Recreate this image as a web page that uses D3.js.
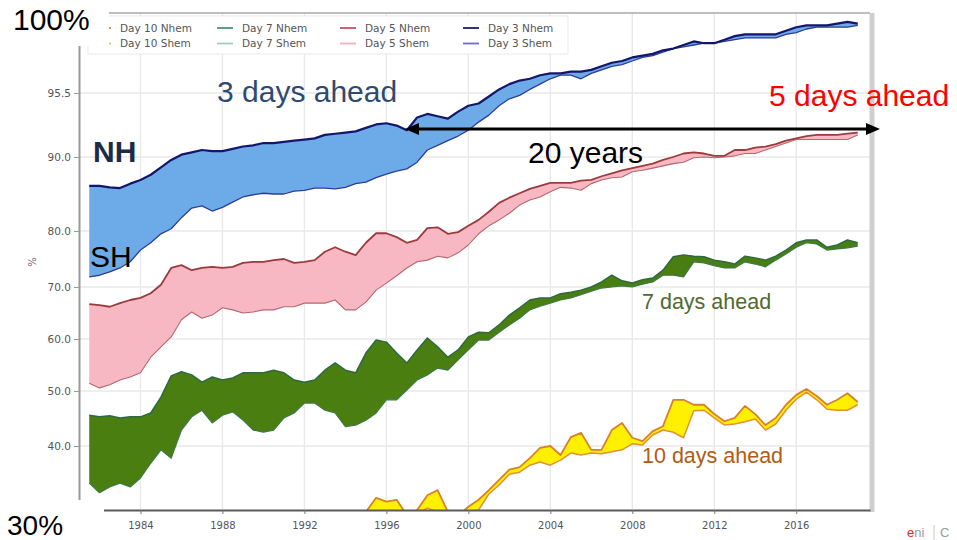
<!DOCTYPE html>
<html>
<head>
<meta charset="utf-8">
<script src="https://cdn.jsdelivr.net/npm/d3@7"></script>
<style>
  html, body { margin: 0; padding: 0; background: #fff; }
  svg { display: block; }
</style>
</head>
<body>
<svg id="chart" width="957" height="540"></svg>
<script>
// Half-yearly samples of the 12-month running anomaly correlation (%)
const years = [1981.5,1982,1982.5,1983,1983.5,1984,1984.5,1985,1985.5,1986,1986.5,1987,1987.5,1988,1988.5,1989,
  1989.5,1990,1990.5,1991,1991.5,1992,1992.5,1993,1993.5,1994,1994.5,1995,1995.5,1996,1996.5,1997,
  1997.5,1998,1998.5,1999,1999.5,2000,2000.5,2001,2001.5,2002,2002.5,2003,2003.5,2004,2004.5,2005,
  2005.5,2006,2006.5,2007,2007.5,2008,2008.5,2009,2009.5,2010,2010.5,2011,2011.5,2012,2012.5,2013,
  2013.5,2014,2014.5,2015,2015.5,2016,2016.5,2017,2017.5,2018,2018.5,2019];

const day3Nhem = [86.1,86.1,85.9,85.8,86.4,86.9,87.6,88.6, 89.6,90.2,90.4,90.6,90.5,90.5,90.7,90.9,
  91.0,91.2,91.2,91.3,91.4,91.5,91.6,91.9, 92.0,92.1,92.2,92.5,92.8,92.9,92.7,92.3,
  93.4,93.7,93.5,93.3,93.9,94.4,94.6,95.2, 95.7,96.0,96.2,96.3,96.5,96.6,96.6,96.7,
  96.7,96.8,97.0,97.2,97.3,97.5,97.6,97.7, 97.9,98.0,98.2,98.4,98.3,98.3,98.5,98.7,
  98.8,98.8,98.8,98.8,99.0,99.2,99.3,99.3, 99.3,99.4,99.5,99.4];
const day3Shem = [71.8,72.1,72.7,73.4,74.5,76.6,77.9,79.5, 80.3,81.8,83.1,83.4,82.7,83.2,83.9,84.6,
  84.9,85.1,85.0,85.0,85.4,85.5,85.8,85.8, 85.7,85.9,86.4,86.6,87.2,87.7,88.1,88.4,
  89.3,90.6,91.0,91.4,91.8,92.3,93.0,93.6, 94.4,95.0,95.3,95.7,96.0,96.3,96.5,96.5,
  96.3,96.6,96.8,97.0,97.1,97.3,97.5,97.6, 97.8,98.0,98.1,98.2,98.3,98.3,98.4,98.5,
  98.6,98.6,98.6,98.6,98.8,98.9,99.1,99.2, 99.2,99.2,99.2,99.3];

const day5Nhem = [66.7,66.5,66.2,66.9,67.5,67.9,68.8,70.4, 73.4,73.9,73.0,73.4,73.6,73.4,73.6,74.3,
  74.5,74.5,74.8,75.0,74.3,74.5,74.8,76.3, 77.1,76.3,75.7,77.9,79.6,79.6,78.9,77.9,
  78.4,80.4,80.5,79.5,79.8,80.7,81.5,82.6, 83.8,84.5,85.1,85.7,86.1,86.5,86.5,86.5,
  86.8,86.9,87.4,87.8,88.2,88.5,88.8,89.1, 89.6,90.0,90.3,90.4,90.3,90.1,90.1,90.6,
  90.6,90.8,90.9,91.1,91.4,91.6,91.8,91.9, 91.9,91.9,92.0,92.1];
const day5Shem = [51.5,50.6,51.2,52.1,52.7,53.5,56.5,58.5, 60.4,63.7,65.2,64.0,64.6,66.0,65.6,65.0,
  65.2,65.6,65.6,66.2,66.2,66.9,66.9,66.9, 67.5,65.6,65.6,67.1,69.4,70.7,72.0,73.4,
  74.5,74.8,75.5,75.2,76.1,77.5,79.5,80.7, 81.5,82.4,83.5,84.2,84.6,85.3,85.9,85.8,
  85.5,86.4,86.9,87.2,87.3,88.0,88.2,88.5, 88.8,89.1,89.3,89.9,90.0,89.9,90.0,90.1,
  90.3,90.3,90.6,90.9,91.2,91.5,91.5,91.5, 91.5,91.5,91.5,91.9];

const day7Nhem = [45.6,45.3,45.5,45.1,45.3,45.3,46.0,48.9, 52.9,53.7,53.1,51.7,52.7,52.1,52.5,53.5,
  53.5,53.5,54.0,53.5,52.1,51.7,52.1,54.0, 55.4,54.0,53.5,57.3,59.8,59.4,57.3,55.4,
  57.9,60.2,58.5,56.5,57.9,60.4,61.3,61.2, 62.7,64.6,66.0,67.5,67.9,67.9,68.7,69.0,
  69.4,70.0,70.9,72.1,71.1,70.7,71.3,71.6, 73.0,75.4,75.7,75.5,75.4,74.8,74.5,74.1,
  75.5,75.2,74.8,75.5,76.6,77.9,78.4,78.4, 77.1,77.5,78.4,77.9];
const day7Shem = [34.2,32.7,33.6,34.2,33.6,35.0,37.3,39.4, 38.1,42.9,45.3,46.5,44.2,45.6,46.2,44.7,
  42.9,42.5,42.9,45.1,46.0,47.8,47.8,46.5, 46.0,43.5,43.8,44.7,46.0,48.4,48.4,50.2,
  52.1,53.1,54.4,54.0,56.0,57.9,59.8,59.8, 61.3,62.7,64.0,65.6,66.3,66.9,67.5,67.9,
  68.5,69.2,69.8,70.0,70.2,70.0,70.5,70.9, 72.1,72.1,71.8,74.5,74.3,73.8,73.4,73.4,
  74.5,74.1,73.6,74.8,75.9,77.1,77.9,77.7, 76.6,76.8,77.0,77.3];

// Day 10 scores only rise into view from 1995 onwards
const day10Nhem = [29.7,31.9,31.3,31.6,29.2,30.0,32.3,33.1,29.7,29.1,30.5,31.6,33.1,34.7,36.3,36.7,
  38.1,39.7,40.0,38.6,41.6,42.4,39.4,39.4,42.9,44.2,41.5,40.9,42.7,43.6,48.4,48.4,
  47.5,47.5,45.8,44.5,45.1,47.3,45.8,43.8,45.1,47.5,49.3,50.4,49.1,47.5,48.4,49.6,48.0];
const day10Shem = [29.2,29.7,29.7,29.7,28.8,29.4,30.3,29.7,28.8,28.4,29.7,30.0,32.5,33.9,35.6,35.9,
  37.0,37.5,37.0,37.8,38.9,38.6,38.9,38.8,39.1,39.4,40.4,40.2,42.0,42.9,42.5,41.5,
  46.4,46.5,45.1,43.8,44.0,44.4,44.9,42.9,44.0,46.5,48.5,49.8,48.4,46.7,46.5,46.5,47.5];

const xTicks = [1984, 1988, 1992, 1996, 2000, 2004, 2008, 2012, 2016];
const yTicks = [40, 50, 60, 70, 80, 90, 95.5];
const yStops = [30, 40, 50, 60, 70, 80, 90, 95.5, 100];

const legendItems = [
  { label: "Day 10 Nhem", color: "#e0892c" }, { label: "Day 10 Shem", color: "#f2bb80" },
  { label: "Day 7 Nhem",  color: "#4d9274" }, { label: "Day 7 Shem",  color: "#a3cdb8" },
  { label: "Day 5 Nhem",  color: "#c2535c" }, { label: "Day 5 Shem",  color: "#ebb3ba" },
  { label: "Day 3 Nhem",  color: "#1d1d6e" }, { label: "Day 3 Shem",  color: "#6b6bd6" }
];

// ---- layout ----
const plot = { left: 79, right: 870, top: 13, bottom: 510 };
// the value axis is stretched towards the top: pixel rows of each stop
const yStopRows = [510, 446, 391, 339, 287, 231, 157, 93, 13];

const svg = d3.select("#chart");
const x = d3.scaleLinear().domain([1981, 2019.6]).range([plot.left, plot.right]);
const y = d3.scaleLinear().domain(yStops).range(yStopRows);

const defs = svg.append("defs");
defs.append("clipPath").attr("id", "plotClip")
  .append("rect").attr("x", plot.left).attr("y", plot.top)
  .attr("width", plot.right - plot.left).attr("height", plot.bottom - plot.top);

// grid
const grid = svg.append("g").attr("stroke", "#e9e9e9").attr("stroke-width", 1.4);
grid.selectAll("line.v").data(xTicks).join("line")
  .attr("x1", d => x(d)).attr("x2", d => x(d)).attr("y1", plot.top).attr("y2", plot.bottom);
grid.selectAll("line.h").data(yTicks).join("line")
  .attr("y1", d => y(d)).attr("y2", d => y(d)).attr("x1", plot.left).attr("x2", plot.right);

// bands between northern and southern hemisphere scores
const series = [
  { yrs: years, n: day3Nhem, s: day3Shem, fill: "#6cabe7", lineN: "#15166a", lineS: "#2c3c9c", wN: 2.2, wS: 1.3 },
  { yrs: years, n: day5Nhem, s: day5Shem, fill: "#f8b8c3", lineN: "#9a3b3d", lineS: "#b4676c", wN: 1.8, wS: 1.1 },
  { yrs: years, n: day7Nhem, s: day7Shem, fill: "#4b7e11", lineN: "#2d6a40", lineS: "#3b7a48", wN: 1.5, wS: 1.2 },
  { yrs: years.filter(v => v >= 1995), n: day10Nhem, s: day10Shem, fill: "#fff000", lineN: "#d8812c", lineS: "#e0913a", wN: 1.8, wS: 1.5 }
];

const layer = svg.append("g").attr("clip-path", "url(#plotClip)");
series.forEach(sr => {
  const rows = sr.yrs.map((yr, i) => ({ yr, n: sr.n[i], s: sr.s[i] }));
  layer.append("path").datum(rows)
    .attr("fill", sr.fill)
    .attr("d", d3.area().x(d => x(d.yr)).y0(d => y(d.s)).y1(d => y(d.n)));
  layer.append("path").datum(rows)
    .attr("fill", "none").attr("stroke", sr.lineS).attr("stroke-width", sr.wS)
    .attr("stroke-linejoin", "round")
    .attr("d", d3.line().x(d => x(d.yr)).y(d => y(d.s)));
  layer.append("path").datum(rows)
    .attr("fill", "none").attr("stroke", sr.lineN).attr("stroke-width", sr.wN)
    .attr("stroke-linejoin", "round")
    .attr("d", d3.line().x(d => x(d.yr)).y(d => y(d.n)));
});

// frame
svg.append("line").attr("x1", plot.left).attr("x2", plot.right).attr("y1", plot.top).attr("y2", plot.top)
  .attr("stroke", "#a8a8a8").attr("stroke-width", 1.5);
svg.append("line").attr("x1", plot.right + 2).attr("x2", plot.right + 2).attr("y1", plot.top).attr("y2", plot.bottom + 2)
  .attr("stroke", "#cfcfcf").attr("stroke-width", 5);

// axes
const xAxis = svg.append("g").attr("transform", `translate(0,${plot.bottom})`)
  .call(d3.axisBottom(x).tickValues(xTicks).tickFormat(d3.format("d")).tickSize(4).tickSizeOuter(0));
xAxis.select(".domain").attr("stroke", "#5a5a5a").attr("stroke-width", 2.2);
xAxis.selectAll(".tick line").attr("stroke", "#777");
xAxis.selectAll(".tick text").attr("fill", "#555").attr("font-size", 10)
  .attr("font-family", "DejaVu Sans, sans-serif").attr("dy", "1.15em");

const yAxis = svg.append("g").attr("transform", `translate(${plot.left},0)`)
  .call(d3.axisLeft(y).tickValues(yTicks).tickFormat(d3.format(".1f")).tickSize(5).tickSizeOuter(0));
yAxis.select(".domain").attr("stroke", "#9a9a9a").attr("stroke-width", 2);
yAxis.selectAll(".tick line").attr("stroke", "#999");
yAxis.selectAll(".tick text").attr("fill", "#555").attr("font-size", 10.5)
  .attr("font-family", "DejaVu Sans, sans-serif");

svg.append("text").attr("transform", "translate(36,262) rotate(-90)")
  .attr("text-anchor", "middle").attr("font-size", 10).attr("fill", "#666")
  .attr("font-family", "DejaVu Sans, sans-serif").text("%");

// legend
const legend = svg.append("g");
legend.append("rect").attr("x", 88).attr("y", 16).attr("width", 480).attr("height", 38)
  .attr("fill", "#fff").attr("stroke", "#e4e4e4").attr("stroke-width", 0.8);
const colX = [95, 217, 340, 463];
legendItems.forEach((it, i) => {
  const col = Math.floor(i / 2), row = i % 2;
  const ly = 28 + row * 15.5;
  legend.append("line").attr("x1", colX[col]).attr("x2", colX[col] + 16)
    .attr("y1", ly).attr("y2", ly).attr("stroke", it.color).attr("stroke-width", 1.8);
  legend.append("text").attr("x", colX[col] + 25).attr("y", ly + 3.8)
    .attr("font-size", 10.5).attr("fill", "#555")
    .attr("font-family", "DejaVu Sans, sans-serif").text(it.label);
});

// annotations
const sans = "Liberation Sans, Arial, sans-serif";
function label(txt, tx, ty, size, color, weight) {
  return svg.append("text").attr("x", tx).attr("y", ty).attr("font-size", size)
    .attr("fill", color).attr("font-family", sans).attr("font-weight", weight || "normal").text(txt);
}
label("3 days ahead", 217, 102, 30, "#2e4a70");
label("5 days ahead", 769, 106, 30, "#ff0000");
label("20 years", 528, 163, 30, "#000");
label("NH", 93, 162, 30, "#1b2a48", "bold");
label("SH", 90, 267, 30, "#000");
label("7 days ahead", 642, 309, 21.5, "#4f6b2d");
label("10 days ahead", 642, 463, 21.5, "#b25b14");

// double-headed arrow spanning the 20-year lag
const ay = 129, ax0 = 405, ax1 = 880;
svg.append("line").attr("x1", ax0 + 10).attr("x2", ax1 - 10).attr("y1", ay).attr("y2", ay)
  .attr("stroke", "#000").attr("stroke-width", 3);
svg.append("path").attr("d", `M${ax0},${ay} L${ax0 + 14},${ay - 6} L${ax0 + 14},${ay + 6} Z`).attr("fill", "#000");
svg.append("path").attr("d", `M${ax1},${ay} L${ax1 - 14},${ay - 6} L${ax1 - 14},${ay + 6} Z`).attr("fill", "#000");

// scale end labels on white panels
svg.append("rect").attr("x", 0).attr("y", 0).attr("width", 109).attr("height", 46).attr("fill", "#fff");
svg.append("rect").attr("x", 0).attr("y", 500).attr("width", 104).attr("height", 40).attr("fill", "#fff");
label("100%", 13, 30, 30, "#000");
label("30%", 7, 535, 28, "#000");

// corner logo
const logo = svg.append("text").attr("x", 907).attr("y", 537).attr("font-size", 13).attr("font-family", sans);
logo.append("tspan").attr("fill", "#e8202a").text("e");
logo.append("tspan").attr("fill", "#9a9a9a").text("ni");
svg.append("line").attr("x1", 934).attr("x2", 934).attr("y1", 525).attr("y2", 540)
  .attr("stroke", "#c8c8c8").attr("stroke-width", 1);
svg.append("text").attr("x", 940).attr("y", 537).attr("font-size", 13).attr("font-family", sans)
  .attr("fill", "#9a9a9a").text("C");
</script>
</body>
</html>
